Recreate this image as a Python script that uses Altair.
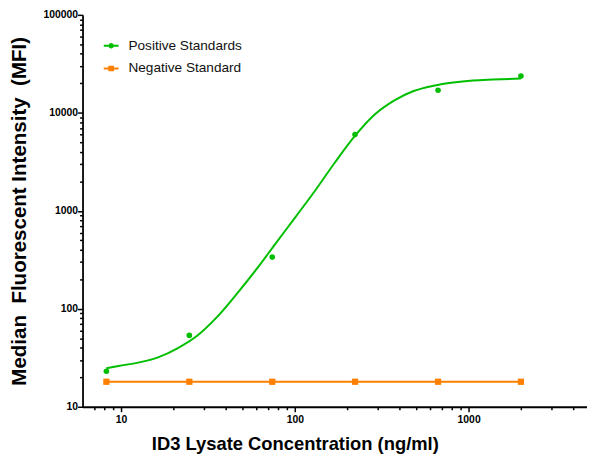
import altair as alt
import pandas as pd

# ---- data ----
conc = [8.23, 24.7, 74.1, 222, 667, 2000]
positive = [23, 53.5, 337, 6000, 17000, 23700]
negative = [18, 18, 18, 18, 18, 18]

# fitted curve of the positive standards
curve_x = [8.23, 9.66, 12.5, 16.3, 21.1, 27.4, 35.6, 46.2, 60.0, 77.8, 101, 131,
           170, 221, 287, 372, 483, 628, 815, 1057, 1374, 2000]
curve_y = [24.7, 26.1, 28.2, 31.9, 39.5, 53.0, 82.1, 141, 252, 468, 868, 1613,
           3110, 5780, 9570, 13340, 16700, 18900, 20400, 21370, 21870, 22390]

series = ["Positive Standards", "Negative Standard"]
colors = ["#00BE00", "#FF8000"]

x_ticks = [7, 8, 9, 10, 20, 30, 40, 50, 60, 70, 80, 90, 100, 200, 300, 400, 500,
           600, 700, 800, 900, 1000, 2000, 3000, 4000]
y_ticks = [m * 10 ** e for e in range(1, 5) for m in range(1, 10)] + [100000]

GREEN, ORANGE = colors
FONT = "Liberation Sans"

pos_df = pd.DataFrame({"x": conc, "y": positive})
neg_df = pd.DataFrame({"x": conc, "y": negative})
curve_df = pd.DataFrame({"x": curve_x, "y": curve_y})

major_test = "abs(log(datum.value)/LN10 - round(log(datum.value)/LN10)) < 0.001"

x_enc = alt.X(
    "x:Q",
    scale=alt.Scale(type="log", domain=[6, 4800], nice=False),
    axis=alt.Axis(
        title="ID3 Lysate Concentration (ng/ml)",
        values=x_ticks,
        labelExpr=f"({major_test}) ? toString(datum.value) : ''",
        tickSize={"condition": {"test": major_test, "value": 5}, "value": 3},
        labelPadding=3,
        titleX=215,
        titleY=43,
        titleFontSize=18.6,
        titleBaseline="alphabetic",
    ),
)
y_enc = alt.Y(
    "y:Q",
    scale=alt.Scale(type="log", domain=[10, 100000], nice=False),
    axis=alt.Axis(
        title="Median\u00a0 Fluorescent Intensity\u00a0 (MFI)",
        values=y_ticks,
        labelExpr=f"({major_test}) ? toString(datum.value) : ''",
        tickSize={"condition": {"test": major_test, "value": 5}, "value": 3},
        labelPadding=0,
        titleX=-64,
        titleFontSize=20.8,
        titleBaseline="middle",
    ),
)

curve = alt.Chart(curve_df).mark_line(
    color=GREEN, strokeWidth=2, interpolate="monotone"
).encode(x=x_enc, y=y_enc)

neg_line = alt.Chart(neg_df).mark_line(color=ORANGE, strokeWidth=2).encode(x=x_enc, y=y_enc)

pos_pts = alt.Chart(pos_df).mark_circle(color=GREEN, size=32, opacity=1).encode(x=x_enc, y=y_enc)

neg_pts = alt.Chart(neg_df).mark_square(color=ORANGE, size=40, opacity=1).encode(x=x_enc, y=y_enc)

line_circle = ("M-1,-0.13L1,-0.13L1,0.13L-1,0.13Z "
               "M-0.36,0A0.36,0.36 0 1,1 0.36,0A0.36,0.36 0 1,1 -0.36,0Z")
line_square = ("M-1,-0.13L1,-0.13L1,0.13L-1,0.13Z "
               "M-0.38,-0.38L0.38,-0.38L0.38,0.38L-0.38,0.38Z")

legend_df = pd.DataFrame({"series": pd.Series([], dtype=str)})
legend_layer = alt.Chart(legend_df).mark_point(filled=True, opacity=1, strokeWidth=0).encode(
    color=alt.Color("series:N", scale=alt.Scale(domain=series, range=colors),
                    legend=alt.Legend(title=None, orient="none", legendX=21.5, legendY=23.8)),
    shape=alt.Shape("series:N", scale=alt.Scale(domain=series, range=[line_circle, line_square]),
                    legend=alt.Legend(title=None, orient="none", legendX=21.5, legendY=23.8)),
)

chart = alt.layer(curve, neg_line, pos_pts, neg_pts, legend_layer).properties(
    width=511,
    height=397,
    autosize=alt.AutoSizeParams(type="none"),
    padding={"left": 75.5, "top": 4, "right": 0, "bottom": 52},
).configure_view(stroke=None).configure_axis(
    domainColor="black",
    domainWidth=1.8,
    tickColor="black",
    tickWidth=1.5,
    grid=False,
    labelFont=FONT,
    labelFontSize=10.5,
    labelFontWeight="bold",
    labelColor="black",
    titleFont=FONT,
    titleFontWeight="bold",
    titleColor="black",
).configure_legend(
    labelFont=FONT,
    labelFontSize=13.8,
    labelColor="#111111",
    symbolSize=225,
    symbolStrokeWidth=0,
    labelOffset=10,
    rowPadding=8,
    padding=0,
)

chart.save("out.html", embed_options={"renderer": "svg", "actions": False})
